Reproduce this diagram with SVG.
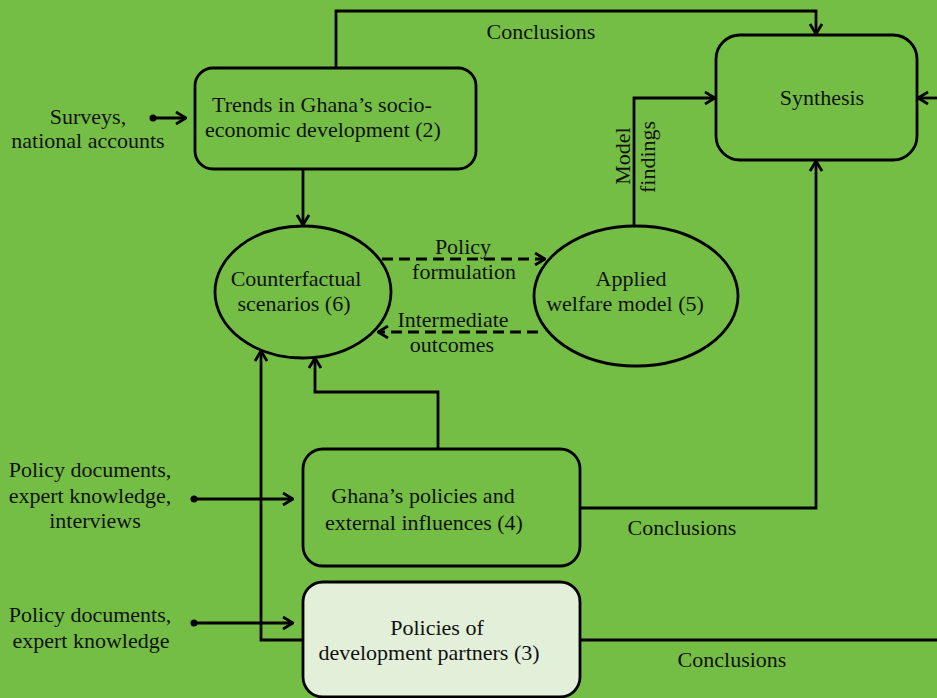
<svg xmlns="http://www.w3.org/2000/svg" width="937" height="698" viewBox="0 0 937 698">
<style>
text{font-family:"Liberation Serif","DejaVu Serif",serif;font-size:22px;fill:#111;text-anchor:middle}
.box{fill:#75BE45;stroke:#000;stroke-width:2.8}
.light{fill:#E2EFD9}
.ln{fill:none;stroke:#000;stroke-width:2.8}
.dash{stroke-dasharray:11 6}
.arr{marker-end:url(#ah)}
</style>
<defs>
<marker id="ah" markerUnits="userSpaceOnUse" viewBox="0 0 12 14" refX="11" refY="7" markerWidth="12" markerHeight="14" orient="auto">
<path d="M1,1 L11,7 L1,13" fill="none" stroke="#000" stroke-width="2.8"/>
</marker>
</defs>
<rect width="937" height="698" fill="#75BE45"/>
<g id="connectors">
<circle cx="153" cy="118" r="3.5"/>
<path class="ln arr" d="M153,118 H186"/>
<path class="ln arr" d="M336,68 V11 H816 V34"/>
<path class="ln arr" d="M303,169 V225"/>
<path class="ln dash arr" d="M382,259 H545"/>
<path class="ln dash arr" d="M538,332 H378"/>
<path class="ln arr" d="M634,226 V98 H715"/>
<path class="ln arr" d="M937,98 H918"/>
<path class="ln arr" d="M580,508 H816 V161"/>
<path class="ln arr" d="M438,449 V392 H315 V358"/>
<path class="ln arr" d="M303,640 H261 V351"/>
<circle cx="194" cy="499" r="3.5"/>
<path class="ln arr" d="M194,499 H293"/>
<circle cx="194" cy="623" r="3.5"/>
<path class="ln arr" d="M194,623 H293"/>
<path class="ln" d="M580,640 H937"/>
<text x="541" y="39">Conclusions</text>
<text x="682" y="535">Conclusions</text>
<text x="732" y="667">Conclusions</text>
<text x="463" y="254">Policy</text>
<text x="464" y="279">formulation</text>
<text x="453" y="327">Intermediate</text>
<text x="452" y="352">outcomes</text>
<text transform="translate(630,156) rotate(-90)">Model</text>
<text transform="translate(655,157) rotate(-90)">findings</text>
<text x="88" y="124">Surveys,</text>
<text x="88" y="148">national accounts</text>
<text x="90" y="477">Policy documents,</text>
<text x="90" y="503">expert knowledge,</text>
<text x="95" y="528">interviews</text>
<text x="90" y="622">Policy documents,</text>
<text x="91" y="648">expert knowledge</text>
</g>
<g id="node2">
<rect class="box" x="195" y="68" width="281" height="101" rx="18"/>
<text x="322" y="112">Trends in Ghana’s socio-</text>
<text x="323" y="137">economic development (2)</text>
</g>
<g id="synthesis">
<rect class="box" x="716" y="35" width="201" height="125" rx="24"/>
<text x="822" y="105">Synthesis</text>
</g>
<g id="node6">
<ellipse class="box" cx="303" cy="292" rx="88" ry="66"/>
<text x="296" y="286">Counterfactual</text>
<text x="294" y="311">scenarios (6)</text>
</g>
<g id="node5">
<ellipse class="box" cx="636" cy="296" rx="102" ry="70"/>
<text x="631" y="286">Applied</text>
<text x="625" y="311">welfare model (5)</text>
</g>
<g id="node4">
<rect class="box" x="303" y="449" width="277" height="117" rx="20"/>
<text x="423" y="503">Ghana’s policies and</text>
<text x="424" y="530">external influences (4)</text>
</g>
<g id="node3">
<rect class="box light" x="303" y="582" width="277" height="115" rx="20"/>
<text x="437" y="635">Policies of</text>
<text x="429" y="660">development partners (3)</text>
</g>
</svg>
